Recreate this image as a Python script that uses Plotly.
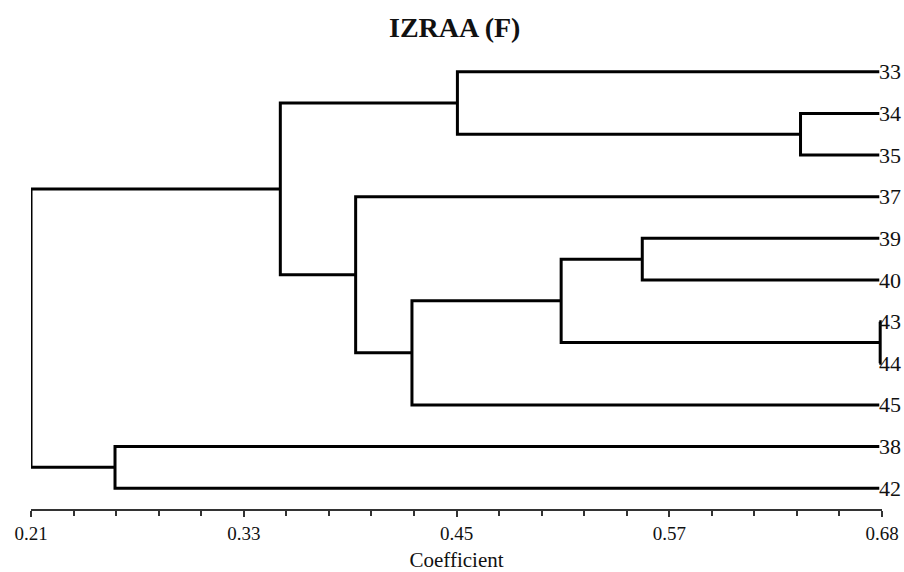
import plotly.graph_objects as go

# ---- data ----
leaves = ["33", "34", "35", "37", "39", "40", "43", "44", "45", "38", "42"]
# merges: (child_a, child_b, coefficient); ints < 11 are leaves, >= 11 are earlier merges
merge_a = [1, 0, 4, 6, 13, 15, 3, 12, 9, 18]
merge_b = [2, 11, 5, 7, 14, 8, 16, 17, 10, 19]
merge_coef = [0.635, 0.4455, 0.5476, 0.679, 0.5028, 0.4204, 0.3893, 0.3477, 0.2564, 0.21]

tick_labels = ["0.21", "0.33", "0.45", "0.57", "0.68"]
tick_positions = [0.21, 0.3275, 0.445, 0.5625, 0.68]
leaf_end = 0.6785

# ---- build dendrogram coordinates ----
n = len(leaves)
node_x = [leaf_end] * n
node_y = list(range(n))
xs, ys = [], []
for a, b, c in zip(merge_a, merge_b, merge_coef):
    ya, yb = node_y[a], node_y[b]
    xa, xb = node_x[a], node_x[b]
    xs += [xa, c, c, xb, None]
    ys += [ya, ya, yb, yb, None]
    node_x.append(c)
    node_y.append((ya + yb) / 2)

fig = go.Figure()
fig.add_trace(go.Scatter(x=xs, y=ys, mode="lines",
                         line=dict(color="black", width=3),
                         hoverinfo="skip", showlegend=False))

serif = "Liberation Serif, Times New Roman, serif"

for i, lab in enumerate(leaves):
    fig.add_annotation(x=leaf_end, y=i, text=lab, xref="x", yref="y",
                       xanchor="left", yanchor="middle", showarrow=False,
                       xshift=-2, font=dict(family=serif, size=22, color="#111"))

fig.update_layout(
    width=904, height=572,
    margin=dict(l=31, r=22, t=51, b=63, autoexpand=False),
    paper_bgcolor="white", plot_bgcolor="white",
    title=dict(text="<b>IZRAA (F)</b>", x=0.503, xanchor="center",
               y=0.952, yanchor="middle",
               font=dict(family=serif, size=28, color="#111")),
    xaxis=dict(range=[0.21, 0.68], tickmode="array", tickvals=tick_positions,
               ticktext=tick_labels, showgrid=False, zeroline=False,
               showline=True, linecolor="#333", linewidth=1.5, automargin=False,
               ticks="outside", ticklen=6, tickwidth=1.5, tickcolor="#333",
               tickfont=dict(family=serif, size=19, color="#111"),
               minor=dict(tick0=0.21, dtick=0.0235, ticks="outside",
                          ticklen=5, tickwidth=1.5, tickcolor="#333"),
               title=dict(text="Coefficient", standoff=12,
                          font=dict(family=serif, size=21, color="#111"))),
    yaxis=dict(range=[10.5, -0.5], showgrid=False, zeroline=False, automargin=False,
               showline=False, showticklabels=False, ticks=""),
)

fig.write_html("out.html", config={"displayModeBar": False},
               post_script="document.body.style.margin='0';")
